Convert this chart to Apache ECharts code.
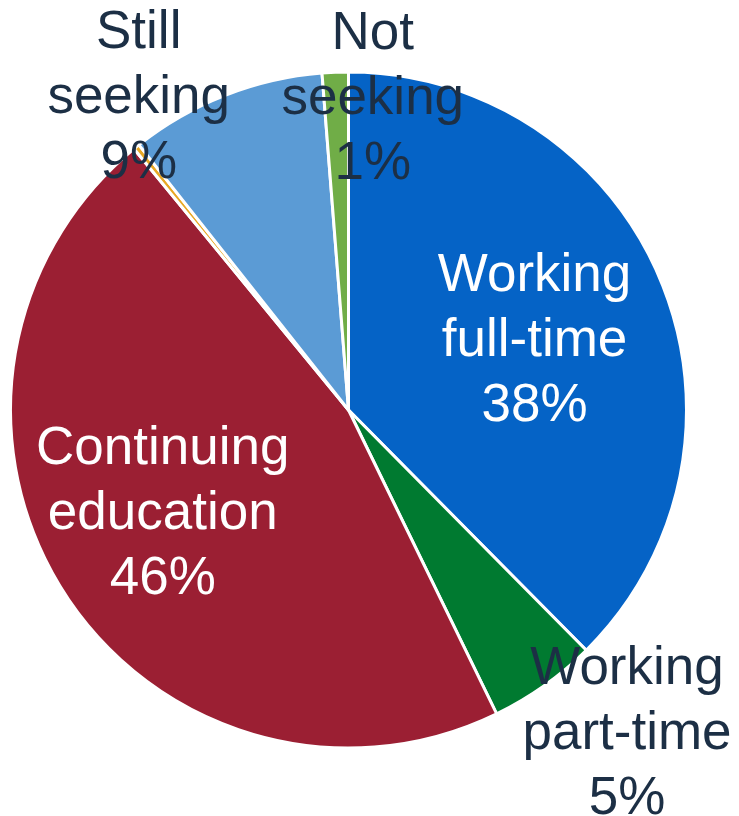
<!DOCTYPE html>
<html>
<head>
<meta charset="utf-8">
<script src="https://cdn.jsdelivr.net/npm/echarts@6/dist/echarts.min.js"></script>
<style>
html,body{margin:0;padding:0;background:#fff;}
#chart{width:739px;height:816px;}
</style>
</head>
<body>
<div id="chart"></div>
<script>
// Data
var categories = ["Working\nfull-time", "Working\npart-time", "Continuing\neducation", "Other", "Still\nseeking", "Not\nseeking"];
var values = [37.6, 5.2, 46.3, 0.3, 9.4, 1.25];
var colors = ["#0563C6", "#007A30", "#9B1F33", "#E8A825", "#5B9BD5", "#70AD47"];
var showLabel = [true, true, true, false, true, true];
var labelColors = ["#ffffff", "#1c2f45", "#ffffff", "#1c2f45", "#1c2f45", "#1c2f45"];
var labelOffsets = [[27, -3], [179, 184], [-41, 11], [0, 0], [-147, -151], [31, -139]];

var total = values.reduce(function (a, b) { return a + b; }, 0);

var data = categories.map(function (c, i) {
  return {
    name: c,
    value: values[i],
    itemStyle: { color: colors[i] },
    label: {
      show: showLabel[i],
      color: labelColors[i],
      offset: labelOffsets[i]
    }
  };
});

var chart = echarts.init(document.getElementById('chart'), null, { renderer: 'canvas' });
chart.setOption({
  animation: false,
  series: [{
    type: 'pie',
    center: [348.5, 410],
    radius: [0, 338],
    startAngle: 90,
    clockwise: true,
    avoidLabelOverlap: false,
    itemStyle: { borderColor: '#ffffff', borderWidth: 3 },
    label: {
      position: 'inside',
      fontFamily: 'Liberation Sans, Arial, sans-serif',
      fontSize: 53,
      lineHeight: 65,
      align: 'center',
      formatter: function (p) {
        return p.name + '\n' + Math.round(p.value / total * 100) + '%';
      }
    },
    labelLine: { show: false },
    emphasis: { disabled: true },
    data: data
  }]
});
</script>
</body>
</html>
